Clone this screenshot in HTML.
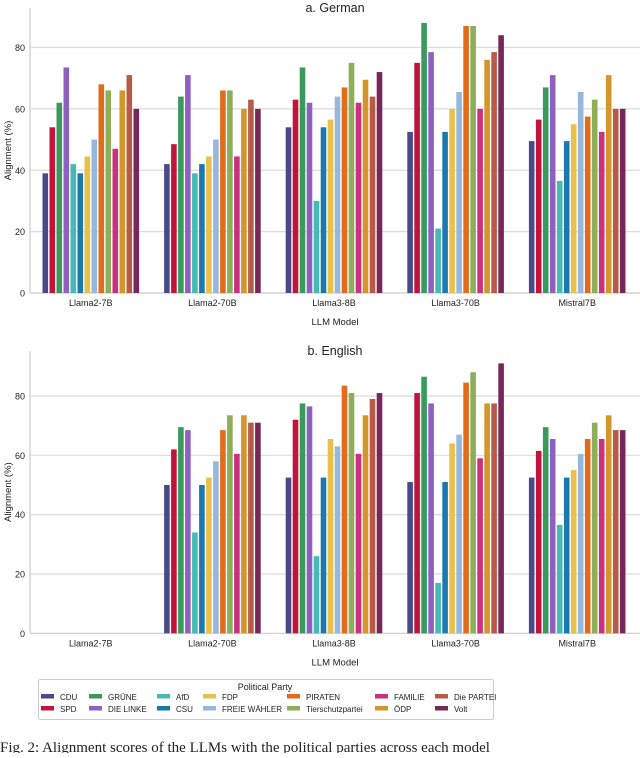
<!DOCTYPE html>
<html><head><meta charset="utf-8"><style>
body{margin:0;background:#fff;width:640px;height:753px;overflow:hidden;font-family:"Liberation Sans",sans-serif}
svg text{font-family:"Liberation Sans","DejaVu Sans",sans-serif;fill:#222}
</style></head><body>
<svg id="c" width="640" height="753"></svg>
<script>
const models=["Llama2-7B","Llama2-70B","Llama3-8B","Llama3-70B","Mistral7B"];
const parties=["CDU","SPD","GRÜNE","DIE LINKE","AfD","CSU","FDP","FREIE WÄHLER","PIRATEN","Tierschutzpartei","FAMILIE","ÖDP","Die PARTEI","Volt"];
const colors=["#4a4a8a","#c0143c","#3a9a5e","#8e60c0","#46bab5","#1a7ab0","#e8c04a","#96b8dc","#e06c1c","#8eae5a","#cc3080","#d4962a","#b85a48","#782858"];
const germanValues=[
[39,54,62,73.5,42,39,44.5,50,68,66,47,66,71,60],
[42,48.5,64,71,39,42,44.5,50,66,66,44.5,60,63,60],
[54,63,73.5,62,30,54,56.5,64,67,75,62,69.5,64,72],
[52.5,75,88,78.5,21,52.5,60,65.5,87,87,60,76,78.5,84],
[49.5,56.5,67,71,36.5,49.5,55,65.5,57.5,63,52.5,71,60,60]];
const englishValues=[
[0,0,0,0,0,0,0,0,0,0,0,0,0,0],
[50,62,69.5,68.5,34,50,52.5,58,68.5,73.5,60.5,73.5,71,71],
[52.5,72,77.5,76.5,26,52.5,65.5,63,83.5,81,60.5,73.5,79,81],
[51,81,86.5,77.5,17,51,64,67,84.5,88,59,77.5,77.5,91],
[52.5,61.5,69.5,65.5,36.5,52.5,55,60.5,65.5,71,65.5,73.5,68.5,68.5]];
const yTicks=[0,20,40,60,80];
const NS="http://www.w3.org/2000/svg";
const svg=document.getElementById('c');
function mk(t,a,p){const e=document.createElementNS(NS,t);for(const k in a)e.setAttribute(k,a[k]);(p||svg).appendChild(e);return e;}
function panel(vals,title,y0px,y80px,top,name){
  const g=mk('g',{});
  
  
  const L=30,R=638,bw=(R-L)/models.length;
  const ys=v=>y0px-(y0px-y80px)*v/80;
  yTicks.forEach(t=>{
    const y=ys(t);
    if(t>0){const gl=mk('line',{x1:L,x2:R+2,y1:y,y2:y,stroke:'#dcdcdc','stroke-width':1.2},g);
    }
    const tx=mk('text',{x:L-5,y:y+3.5,'text-anchor':'end','font-size':9},g);tx.textContent=t;
    
  });
  const sp=mk('line',{x1:L,x2:L,y1:top,y2:y0px,stroke:'#ccc','stroke-width':1.2},g);
  
  const sx=mk('line',{x1:L,x2:R+2,y1:y0px,y2:y0px,stroke:'#ccc','stroke-width':1.2},g);
  
  const pitch=7;
  models.forEach((m,i)=>{
    const cx=L+bw*(i+0.5);
    vals[i].forEach((v,j)=>{
      const x=cx+(j-6.5)*pitch-2.8;
      const y=ys(v);
      const r=mk('rect',{x:x,y:y,width:5.6,height:Math.max(0,y0px-y),fill:colors[j]},g);
      
      
    });
    const lt=mk('text',{x:cx,y:y0px+13,'text-anchor':'middle','font-size':9},g);lt.textContent=m;
    
  });
  const xt=mk('text',{x:335,y:y0px+32,'text-anchor':'middle','font-size':9.5},g);xt.textContent='LLM Model';
  
  const yt=mk('text',{x:0,y:0,'text-anchor':'middle','font-size':9.5,transform:`translate(11,${(top+y0px)/2}) rotate(-90)`},g);yt.textContent='Alignment (%)';
  
  const tt=mk('text',{x:335,y:top+4,'text-anchor':'middle','font-size':12.5},g);tt.textContent=title;
  
}
panel(germanValues,'a. German',293,47.5,8,'german-panel');
panel(englishValues,'b. English',633.3,396,351,'english-panel');
const lg=mk('g',{});


mk('rect',{x:38.5,y:679.5,width:455,height:40,rx:2,fill:'#fff',stroke:'#ccc'},lg);
const lt=mk('text',{x:265,y:690,'text-anchor':'middle','font-size':9},lg);lt.textContent='Political Party';

const colX=[41,89,157,203,287,375,435];
parties.forEach((p,j)=>{
  const c=Math.floor(j/2),r=j%2,y=r?711:699;
  const e=mk('g',{},lg);
  
  
  mk('rect',{x:colX[c],y:y-5,width:13,height:4.5,fill:colors[j]},e);
  const t=mk('text',{x:colX[c]+19,y:y+1,'font-size':8},e);t.textContent=p;
});
const cap=mk('text',{x:0,y:752,'font-size':15,style:'font-family:"Liberation Serif",serif'});
cap.textContent='Fig. 2:   Alignment scores of the LLMs with the political parties across each model';

</script>
</body></html>
